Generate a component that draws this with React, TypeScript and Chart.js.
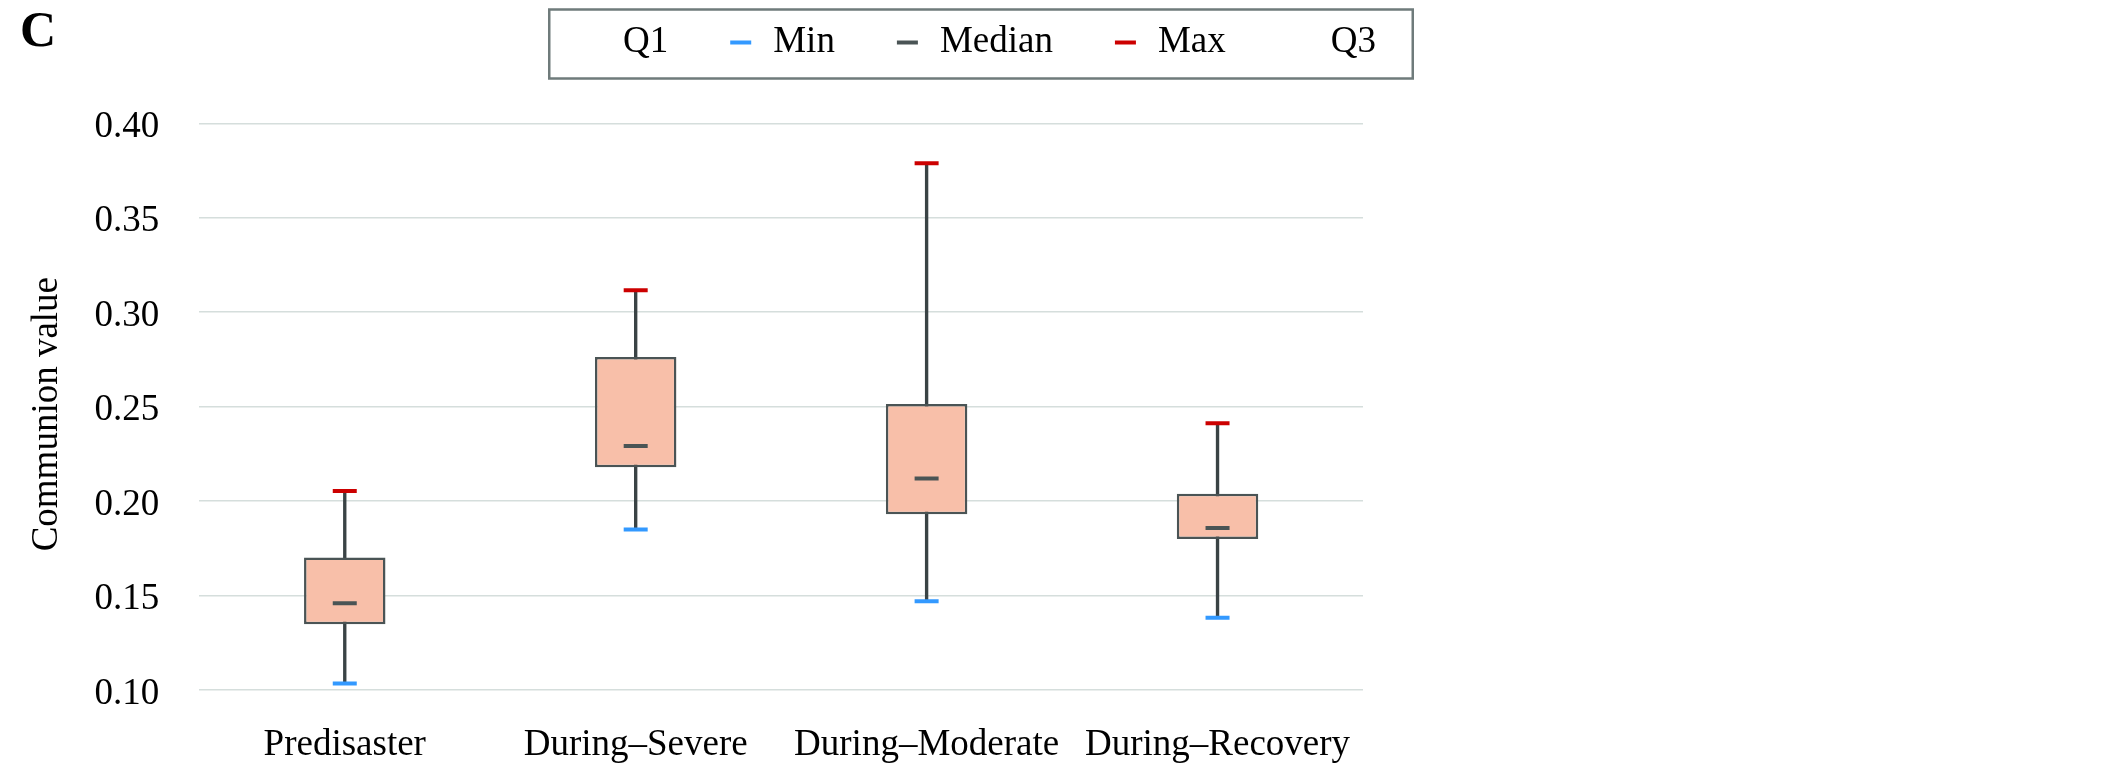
import React, { useEffect, useRef } from 'react';
import { Chart, registerables } from 'chart.js';

Chart.register(...registerables);

const categories = ['Predisaster', 'During–Severe', 'During–Moderate', 'During–Recovery'];
const minValues = [0.1035, 0.1849, 0.147, 0.1383];
const q1Values = [0.1348, 0.2179, 0.193, 0.1799];
const medianValues = [0.1459, 0.2292, 0.2119, 0.1858];
const q3Values = [0.1702, 0.2763, 0.2514, 0.2039];
const maxValues = [0.2053, 0.3116, 0.3788, 0.2412];
const yTickValues = [0.1, 0.15, 0.2, 0.25, 0.3, 0.35, 0.4];
const legendLabels = ['Q1', 'Min', 'Median', 'Max', 'Q3'];
const legendColors = ['rgba(0,0,0,0)', '#3399FF', '#4A5455', '#CC0000', 'rgba(0,0,0,0)'];
const yAxisTitle = 'Communion value';
const panelLetter = 'C';

const FONT = '"Liberation Serif", "Times New Roman", serif';

const overlayPlugin = {
  id: 'overlay',
  afterDraw(chart: any) {
    const ctx = chart.ctx;
    const area = chart.chartArea;
    ctx.save();
    // panel letter
    ctx.fillStyle = '#000';
    ctx.font = `bold 50px ${FONT}`;
    ctx.textAlign = 'left';
    ctx.textBaseline = 'alphabetic';
    ctx.fillText(panelLetter, 20, 45.5);

    // y axis title
    ctx.save();
    ctx.font = `37px ${FONT}`;
    ctx.textAlign = 'center';
    ctx.textBaseline = 'middle';
    ctx.translate(47.4, (area.top + area.bottom) / 2 + 7.5);
    ctx.rotate(-Math.PI / 2);
    ctx.fillText(yAxisTitle, 0, 0);
    ctx.restore();

    // legend box
    ctx.strokeStyle = '#6F7B7B';
    ctx.lineWidth = 2.5;
    ctx.strokeRect(549.25, 9.5, 863.5, 69);
    ctx.font = `37px ${FONT}`;
    ctx.textAlign = 'left';
    ctx.textBaseline = 'middle';
    const yMid = 42.5;
    let x = 580;
    legendLabels.forEach((lab, i) => {
      ctx.strokeStyle = legendColors[i];
      ctx.lineWidth = 4;
      ctx.beginPath();
      ctx.moveTo(x, yMid);
      ctx.lineTo(x + 21, yMid);
      ctx.stroke();
      ctx.fillStyle = '#000';
      ctx.fillText(lab, x + 43, yMid);
      x += 43 + ctx.measureText(lab).width + 62;
    });
    ctx.restore();
  },
};

export default function App() {
  const canvasRef = useRef<HTMLCanvasElement | null>(null);

  useEffect(() => {
    if (!canvasRef.current) return;
    Chart.defaults.font.family = FONT;
    const capDataset = (label: string, data: number[], color: string) => ({
      type: 'line' as const,
      label,
      data,
      showLine: false,
      pointStyle: 'line',
      pointRadius: 12,
      pointHoverRadius: 12,
      pointBorderWidth: 4,
      pointHoverBorderWidth: 4,
      borderColor: color,
      backgroundColor: color,
      pointBorderColor: color,
      order: 0,
    });
    const chart = new Chart(canvasRef.current, {
      type: 'bar',
      data: {
        labels: categories,
        datasets: [
          capDataset('Max', maxValues, '#CC0000'),
          capDataset('Min', minValues, '#3399FF'),
          capDataset('Median', medianValues, '#4A5455'),
          {
            type: 'bar',
            label: 'Box',
            data: categories.map((_, i) => [q1Values[i], q3Values[i]]),
            backgroundColor: '#F8BFA9',
            borderColor: '#4A5455',
            borderWidth: 2.5,
            borderSkipped: false,
            barPercentage: 0.28,
            categoryPercentage: 1,
            grouped: false,
            order: 1,
          } as any,
          {
            type: 'bar',
            label: 'Whisker',
            data: categories.map((_, i) => [minValues[i], maxValues[i]]),
            backgroundColor: '#3A4345',
            borderWidth: 0,
            barThickness: 2.7,
            grouped: false,
            order: 2,
          } as any,
        ],
      },
      options: {
        animation: false,
        responsive: true,
        maintainAspectRatio: false,
        devicePixelRatio: 1,
        layout: { padding: { left: 0, top: 123.3, right: 763, bottom: 0 } },
        plugins: {
          legend: { display: false },
          tooltip: { enabled: false },
          title: { display: false },
        },
        scales: {
          x: {
            type: 'category',
            offset: true,
            grid: { display: false, drawTicks: false },
            border: { display: false },
            ticks: {
              color: '#000',
              font: { family: FONT, size: 37 },
              padding: 33.5,
              maxRotation: 0,
              autoSkip: false,
            },
            afterFit: (s: any) => {
              s.height = 90;
            },
          },
          y: {
            min: 0.1,
            max: 0.4,
            grid: { color: '#D5DEDC', lineWidth: 1.6, drawTicks: false },
            border: { display: false },
            ticks: {
              color: '#000',
              font: { family: FONT, size: 37 },
              padding: 40,
              labelOffset: 4,
              callback: (v: any) => Number(v).toFixed(2),
            },
            afterBuildTicks: (s: any) => {
              s.ticks = yTickValues.map((v) => ({ value: v }));
            },
            afterFit: (s: any) => {
              s.width = 199.3;
            },
          },
        },
      } as any,
      plugins: [overlayPlugin],
    });
    return () => chart.destroy();
  }, []);

  return (
    <div style={{ position: 'absolute', left: 0, top: 0, width: 2126, height: 780, background: '#fff' }}>
      <canvas ref={canvasRef} />
    </div>
  );
}
